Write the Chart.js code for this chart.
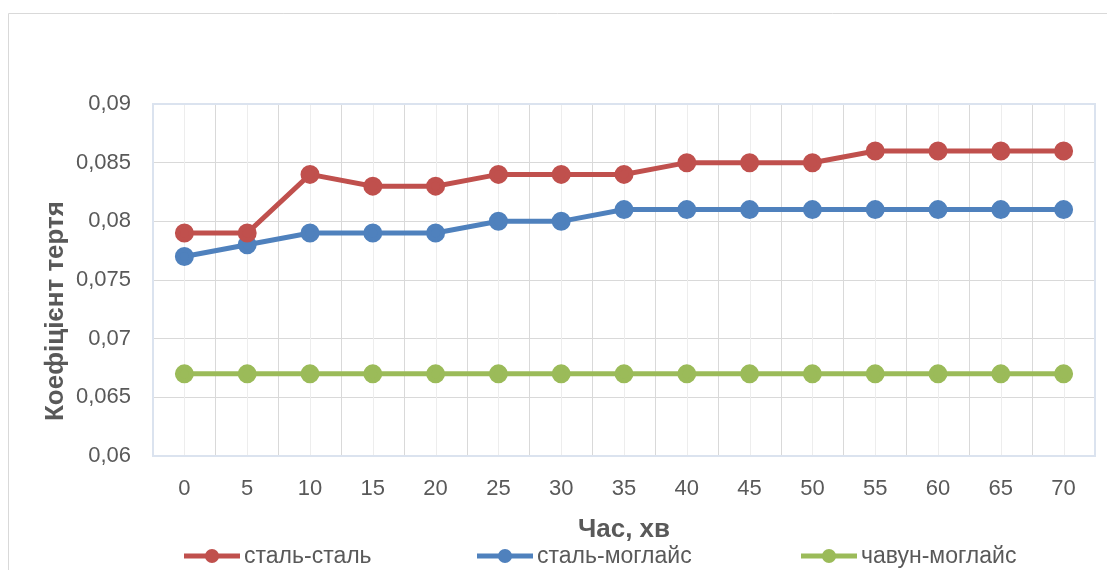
<!DOCTYPE html>
<html>
<head>
<meta charset="utf-8">
<script src="https://cdn.jsdelivr.net/npm/chart.js@4.4.1/dist/chart.umd.min.js"></script>
<style>
html,body{margin:0;padding:0;background:#fff;}
#wrap{width:1107px;height:570px;position:relative;}
</style>
</head>
<body>
<div id="wrap"><canvas id="c" width="1107" height="570"></canvas></div>
<script>
const categories = ['0','5','10','15','20','25','30','35','40','45','50','55','60','65','70'];
const seriesNames = ['сталь-сталь','сталь-моглайс','чавун-моглайс'];
const steelSteel = [0.079,0.079,0.084,0.083,0.083,0.084,0.084,0.084,0.085,0.085,0.085,0.086,0.086,0.086,0.086];
const steelMoglais = [0.077,0.078,0.079,0.079,0.079,0.080,0.080,0.081,0.081,0.081,0.081,0.081,0.081,0.081,0.081];
const ironMoglais = [0.067,0.067,0.067,0.067,0.067,0.067,0.067,0.067,0.067,0.067,0.067,0.067,0.067,0.067,0.067];
const yMin = 0.06, yMax = 0.09, yStep = 0.005;
const xTitle = 'Час, хв';
const yTitle = 'Коефіцієнт тертя';

const colors = ['#C0504D','#4F81BD','#9BBB59'];
const FONT = "'Liberation Sans', Arial, sans-serif";
const TXT = '#595959';

function ds(label, data, color){
  return {label, data, borderColor: color, backgroundColor: color,
    pointBackgroundColor: color, pointBorderColor: color,
    borderWidth: 5, pointRadius: 7, pointHoverRadius: 7, tension: 0};
}

const framePlugin = {
  id: 'frame',
  beforeDraw(chart){
    const ctx = chart.ctx;
    ctx.save();
    ctx.strokeStyle = '#d9d9d9';
    ctx.lineWidth = 1;
    ctx.beginPath();
    ctx.moveTo(8.5, 570); ctx.lineTo(8.5, 13.5); ctx.lineTo(1107, 13.5);
    ctx.stroke();
    ctx.restore();
  },
  beforeDatasetsDraw(chart){
    const ctx = chart.ctx, x = chart.scales.x, a = chart.chartArea;
    ctx.save();
    ctx.strokeStyle = '#ededed';
    ctx.lineWidth = 1;
    for (let i = 0; i < categories.length; i++){
      const px = Math.round(x.getPixelForValue(i)) + 0.5;
      ctx.beginPath(); ctx.moveTo(px, a.top); ctx.lineTo(px, a.bottom); ctx.stroke();
    }
    ctx.strokeStyle = '#dbe3ef';
    ctx.lineWidth = 2;
    ctx.strokeRect(a.left, a.top, a.right - a.left, a.bottom - a.top);
    ctx.restore();
  },
  afterDraw(chart){
    const ctx = chart.ctx;
    // y-axis title
    ctx.save();
    ctx.translate(56, 311);
    ctx.rotate(-Math.PI / 2);
    ctx.font = "bold 26px " + FONT;
    ctx.fillStyle = TXT;
    ctx.textAlign = 'center';
    ctx.textBaseline = 'middle';
    ctx.fillText(yTitle, 0, 0);
    ctx.restore();
    // legend
    const starts = [184, 477, 801];
    const y = 556;
    ctx.save();
    ctx.font = "23px " + FONT;
    ctx.textBaseline = 'middle';
    ctx.textAlign = 'left';
    chart.data.datasets.forEach((d, i) => {
      const x0 = starts[i];
      ctx.strokeStyle = d.borderColor;
      ctx.lineWidth = 5;
      ctx.beginPath(); ctx.moveTo(x0, y); ctx.lineTo(x0 + 56, y); ctx.stroke();
      ctx.fillStyle = d.borderColor;
      ctx.beginPath(); ctx.arc(x0 + 28, y, 7, 0, Math.PI * 2); ctx.fill();
      ctx.fillStyle = TXT;
      ctx.fillText(d.label, x0 + 60, y + 1);
    });
    ctx.restore();
  }
};

new Chart(document.getElementById('c'), {
  type: 'line',
  data: {
    labels: categories,
    datasets: [
      ds(seriesNames[0], steelSteel, colors[0]),
      ds(seriesNames[1], steelMoglais, colors[1]),
      ds(seriesNames[2], ironMoglais, colors[2])
    ]
  },
  options: {
    responsive: false,
    animation: false,
    layout: {padding: {left: 0, right: 8, top: 104, bottom: 0}},
    plugins: {legend: {display: false}, tooltip: {enabled: false}},
    scales: {
      x: {
        offset: true,
        grid: {offset: true, color: '#d9d9d9', drawTicks: false},
        border: {display: false},
        ticks: {color: TXT, font: {family: FONT, size: 22}, padding: 20, maxRotation: 0},
        title: {display: true, text: xTitle, color: TXT, font: {family: FONT, size: 26, weight: 'bold'}, padding: {top: 0, bottom: 25}},
        afterFit(s){ s.height = 114; }
      },
      y: {
        min: yMin, max: yMax,
        grid: {color: '#d9d9d9', drawTicks: false},
        border: {display: false},
        ticks: {stepSize: yStep, color: TXT, font: {family: FONT, size: 22}, padding: 22,
          callback: v => parseFloat(v.toFixed(3)).toString().replace('.', ',')},
        afterFit(s){ s.width = 153; }
      }
    }
  },
  plugins: [framePlugin]
});
</script>
</body>
</html>
